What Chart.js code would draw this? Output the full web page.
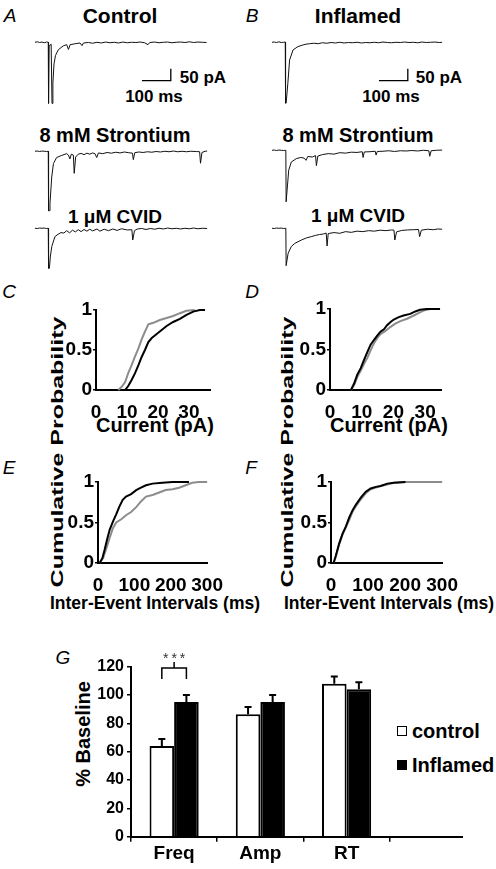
<!DOCTYPE html>
<html>
<head>
<meta charset="utf-8">
<script src="https://cdn.jsdelivr.net/npm/chart.js@4.4.1/dist/chart.umd.min.js"></script>
<style>
  html, body { margin: 0; padding: 0; background: #fff; }
  #page { position: relative; width: 496px; height: 869px; overflow: hidden;
          font-family: "Liberation Sans", Arial, Helvetica, sans-serif; color: #000; }
  canvas { position: absolute; }
  .t { position: absolute; transform: translate(-50%, -50%); white-space: nowrap; line-height: 1; font-weight: bold; }
  .lbl { position: absolute; transform: translate(-50%, -50%); font-style: italic; font-size: 19px; line-height: 1; }
  .vt { position: absolute; white-space: nowrap; line-height: 1; font-weight: bold; }
  #legend { position: absolute; left: 397px; top: 714px; }
  .lg { display: flex; align-items: center; height: 34px; font-weight: bold; font-size: 20px; line-height: 1; }
  .sw { display: inline-block; width: 8px; height: 8px; border: 1.5px solid #000; margin-right: 5px; }
</style>
</head>
<body>
<div id="page">
  <div class="lbl" style="left:10px;top:15px">A</div>
  <div class="lbl" style="left:252px;top:15px">B</div>
  <div class="lbl" style="left:9px;top:291px">C</div>
  <div class="lbl" style="left:252px;top:291px">D</div>
  <div class="lbl" style="left:9px;top:467px">E</div>
  <div class="lbl" style="left:251px;top:467px">F</div>
  <div class="lbl" style="left:63px;top:657px">G</div>

  <div class="t" style="left:120px;top:15px;font-size:21px">Control</div>
  <div class="t" style="left:358px;top:15px;font-size:21px">Inflamed</div>
  <div class="t" style="left:203px;top:77px;font-size:17px">50 pA</div>
  <div class="t" style="left:154px;top:96px;font-size:17px">100 ms</div>
  <div class="t" style="left:439px;top:77px;font-size:17px">50 pA</div>
  <div class="t" style="left:391px;top:96px;font-size:17px">100 ms</div>
  <div class="t" style="left:115px;top:135px;font-size:20px">8 mM Strontium</div>
  <div class="t" style="left:358px;top:135px;font-size:20px">8 mM Strontium</div>
  <div class="t" style="left:115px;top:216px;font-size:19px">1 μM CVID</div>
  <div class="t" style="left:358px;top:215px;font-size:19px">1 μM CVID</div>

  <div class="t" style="left:155px;top:425px;font-size:20px">Current (pA)</div>
  <div class="t" style="left:389px;top:425px;font-size:20px">Current (pA)</div>
  <div class="t" style="left:155px;top:604px;font-size:17.5px">Inter-Event Intervals (ms)</div>
  <div class="t" style="left:389px;top:604px;font-size:17.5px">Inter-Event Intervals (ms)</div>

  <div class="vt" style="left:57px;top:452px;font-size:17px;transform:translate(-50%,-50%) rotate(-90deg) scaleX(1.47)">Cumulative Probability</div>
  <div class="vt" style="left:287px;top:452px;font-size:17px;transform:translate(-50%,-50%) rotate(-90deg) scaleX(1.47)">Cumulative Probability</div>
  <div class="vt" style="left:83px;top:734px;font-size:20px;transform:translate(-50%,-50%) rotate(-90deg)">% Baseline</div>

  <div id="legend"></div>
</div>

<script>
const FONT = '"Liberation Sans", Arial, Helvetica, sans-serif';

// ---- example traces: [time (ms), current (pA)] ----
const ctrlBaseline = [[0,0],[8,2],[16,-1],[24,1],[32,-2],[40,1],[46,0],[47,-255],[49,-15],[56,-8],[59,-255],[62,-170],[66,-90],[71,-55],[81,-31],[98,-15],[110,-10],[116,-30],[122,-10],[140,-6],[156,-3],[163,-14],[168,-3],[185,-1],[200,-4],[215,0],[230,-3],[245,1],[260,-2],[275,0],[290,-3],[305,1],[320,-2],[335,0],[350,-1],[365,1],[380,-2],[392,-10],[398,-1],[415,1],[430,-2],[445,0],[460,1],[475,-2],[490,0],[505,1],[520,-1],[535,2],[550,-1],[565,1],[580,0],[595,-1]];
const ctrlStrontium = [[0,0],[8,1],[16,-1],[24,1],[32,0],[40,-1],[46,0],[47,-248],[50,-248],[52,-217],[58,-107],[64,-51],[75,-26],[93,-17],[110,-10],[116,-16],[121,-32],[126,-12],[133,-16],[136,-92],[141,-24],[150,-12],[160,-9],[170,-14],[180,-8],[190,-12],[200,-7],[208,-10],[214,-26],[220,-7],[235,-10],[250,-5],[265,-8],[280,-4],[295,-7],[310,-3],[325,-6],[338,-8],[341,-35],[346,-6],[360,-3],[375,-5],[390,-2],[405,-4],[420,-1],[435,-3],[450,0],[465,-2],[480,1],[495,-2],[510,0],[525,-2],[540,0],[560,-1],[571,-2],[574,-50],[579,-5],[590,0],[597,1]];
const ctrlCvid = [[0,0],[8,-1],[16,1],[24,0],[32,1],[40,-1],[46,0],[47,-167],[50,-167],[53,-120],[58,-77],[69,-35],[80,-25],[90,-18],[100,-20],[110,-10],[120,-19],[130,-8],[140,-15],[150,-6],[160,-14],[170,-5],[180,-12],[190,-4],[200,-11],[215,-3],[225,-12],[240,-4],[255,-10],[270,-3],[285,-9],[300,-2],[320,-7],[336,-6],[339,-49],[345,-10],[355,-3],[370,-1],[385,-5],[400,-1],[415,-4],[430,0],[445,-3],[460,1],[475,-2],[490,0],[505,-3],[520,0],[535,-2],[550,1],[565,-2],[580,0],[597,-1]];
const inflBaseline = [[0,0],[8,1],[16,-1],[24,2],[32,-1],[40,0],[46,1],[47,-254],[49,-254],[55,-171],[61,-74],[73,-32],[90,-18],[105,-12],[118,-8],[130,-6],[145,-4],[160,-6],[175,-2],[190,-4],[205,-1],[220,-3],[235,0],[250,-3],[265,-1],[280,-2],[295,0],[310,-3],[325,-1],[340,-2],[355,0],[370,-2],[385,1],[400,-1],[415,-2],[430,0],[445,-1],[460,1],[475,-1],[490,0],[505,-2],[520,1],[535,-1],[550,0],[565,1],[580,-1],[590,0]];
const inflStrontium = [[0,0],[8,1],[16,-1],[24,1],[32,0],[40,-1],[48,0],[49,-215],[51,-215],[58,-83],[67,-49],[84,-35],[100,-30],[112,-33],[118,-42],[124,-26],[140,-28],[151,-22],[154,-64],[159,-24],[175,-18],[195,-14],[215,-16],[235,-10],[255,-12],[275,-8],[295,-9],[313,-6],[316,-30],[320,-7],[340,-6],[358,-4],[361,-20],[365,-5],[385,-4],[405,-2],[425,-5],[445,-2],[465,-3],[485,-1],[505,-3],[525,0],[544,-2],[547,-25],[552,-2],[570,0],[590,1]];
const inflCvid = [[0,0],[8,-1],[16,1],[24,0],[32,1],[40,-1],[48,0],[49,-156],[51,-156],[56,-104],[67,-76],[79,-63],[102,-49],[120,-40],[136,-35],[150,-30],[165,-26],[178,-24],[188,-20],[191,-74],[195,-22],[215,-18],[235,-21],[255,-14],[275,-17],[295,-12],[315,-14],[335,-10],[355,-12],[375,-8],[395,-10],[415,-7],[423,-8],[426,-49],[432,-15],[450,-9],[470,-7],[490,-6],[508,-5],[512,-35],[518,-8],[540,-4],[560,-6],[575,-3],[590,-4]];
const scaleBarMs = 100;
const scaleBarPA = 50;

// ---- cumulative distributions: [value, probability] ----
const ctrlAmpSr = [[9.4,0],[10.4,0.05],[11.5,0.125],[12.6,0.21],[13.7,0.31],[14.7,0.41],[15.8,0.5],[16.9,0.6],[18,0.65],[19.6,0.7],[21.2,0.75],[22.8,0.8],[24.9,0.85],[27.1,0.89],[29.2,0.94],[31.4,0.98],[33.5,1],[35.2,1]];
const ctrlAmpCvid = [[7.2,0],[8.3,0.04],[9.4,0.1],[10.4,0.21],[11.5,0.31],[12.6,0.42],[13.7,0.52],[14.7,0.63],[15.8,0.73],[16.9,0.82],[18.5,0.84],[20.6,0.875],[22.8,0.9],[24.9,0.925],[27.1,0.96],[29.2,0.99],[31.9,1]];
const inflAmpSr = [[6.6,0],[7.6,0.08],[8.6,0.19],[9.7,0.27],[10.7,0.37],[11.8,0.47],[12.8,0.56],[13.9,0.62],[14.9,0.67],[15.9,0.72],[17,0.75],[18,0.8],[19.1,0.84],[20.1,0.87],[21.7,0.9],[23.2,0.92],[25.3,0.94],[26.9,0.97],[28.4,0.99],[30.5,1],[34.7,1]];
const inflAmpCvid = [[6.6,0],[7.6,0.06],[8.6,0.16],[9.7,0.24],[10.7,0.32],[11.8,0.4],[12.8,0.49],[13.9,0.58],[14.9,0.64],[15.9,0.69],[17.5,0.73],[19.1,0.78],[20.6,0.82],[22.2,0.85],[24.3,0.88],[26.4,0.92],[27.9,0.95],[29.5,0.98],[31.6,1],[34.7,1]];
const ctrlIeiSr = [[4.5,0],[12,0.06],[18,0.16],[25,0.29],[32,0.41],[41,0.51],[50,0.6],[59,0.7],[68,0.78],[77,0.82],[91,0.85],[105,0.9],[118,0.93],[132,0.96],[150,0.98],[177,0.99],[205,1],[250,1]];
const ctrlIeiCvid = [[4.5,0],[14,0.06],[23,0.18],[32,0.31],[41,0.43],[50,0.5],[64,0.54],[77,0.59],[91,0.63],[105,0.69],[118,0.76],[132,0.82],[150,0.84],[168,0.87],[186,0.9],[205,0.91],[223,0.93],[241,0.96],[259,0.99],[277,1],[300,1]];
const inflIeiSr = [[7,0],[13,0.09],[22,0.24],[31,0.36],[40,0.45],[49,0.56],[58,0.65],[67,0.72],[81,0.81],[94,0.88],[107,0.92],[121,0.94],[134,0.95],[152,0.98],[170,0.99],[201,1]];
const inflIeiCvid = [[7,0],[13,0.08],[22,0.23],[31,0.35],[40,0.44],[49,0.53],[58,0.63],[67,0.7],[81,0.79],[94,0.86],[107,0.91],[121,0.93],[134,0.95],[152,0.97],[170,0.99],[201,1],[250,1],[300,1]];
const ampTicks = [0, 10, 20, 30];
const ieiTicks = [0, 100, 200, 300];
const probTicks = [0, 0.5, 1];

// ---- % of baseline, mean and SEM ----
const groups = ['Freq', 'Amp', 'RT'];
const controlPct = [64, 86.5, 108];
const controlSem = [5, 5, 5];
const inflamedPct = [95, 95, 104];
const inflamedSem = [5, 5, 5];
const pctTicks = [0, 20, 40, 60, 80, 100, 120];
const sigGroup = 0;
const sigText = '***';

Chart.defaults.font.family = FONT;
Chart.defaults.color = '#000';

function makeCanvas(left, top, w, h) {
  const c = document.createElement('canvas');
  c.width = w; c.height = h;
  c.style.left = left + 'px';
  c.style.top = top + 'px';
  document.getElementById('page').appendChild(c);
  return c;
}

const noPlugins = { legend: { display: false }, tooltip: { enabled: false } };

/* --- traces --- */
function traceChart(left, baseline, trace, withBar) {
  const canvas = makeCanvas(left, baseline - 5.3, 173, 70);
  const datasets = [{
    data: trace.map(p => ({ x: p[0], y: p[1] })),
    borderColor: '#111', borderWidth: 1, pointRadius: 0
  }];
  if (withBar) {
    const t0 = 371, i0 = -160;
    datasets.push({
      data: [{ x: t0, y: i0 }, { x: t0 + scaleBarMs, y: i0 }, { x: t0 + scaleBarMs, y: i0 + scaleBarPA }],
      borderColor: '#000', borderWidth: 1.3, pointRadius: 0
    });
  }
  new Chart(canvas, {
    type: 'line',
    data: { datasets },
    options: {
      animation: false, responsive: false, events: [],
      layout: { padding: 0 },
      plugins: noPlugins,
      scales: {
        x: { type: 'linear', display: false, min: 0, max: 600 },
        y: { display: false, min: -270, max: 22 }
      }
    }
  });
}

traceChart(35, 42.5, ctrlBaseline, true);
traceChart(35, 151, ctrlStrontium, false);
traceChart(35, 228.3, ctrlCvid, false);
traceChart(272, 42.3, inflBaseline, true);
traceChart(272, 150, inflStrontium, false);
traceChart(272, 228.3, inflCvid, false);

/* --- cumulative probability plots --- */
function cumChart(left, top, areaW, areaH, xMax, xTicks, sr, cvid) {
  const canvas = makeCanvas(left, top, 34 + areaW + 18, 14 + areaH + 32);
  const tickFont = { family: FONT, size: 19, weight: 'bold' };
  new Chart(canvas, {
    type: 'line',
    data: {
      datasets: [
        { label: 'Strontium', data: sr.map(p => ({ x: p[0], y: p[1] })), borderColor: '#000', borderWidth: 2, pointRadius: 0, clip: false },
        { label: 'CVID', data: cvid.map(p => ({ x: p[0], y: p[1] })), borderColor: '#8c8c8c', borderWidth: 2, pointRadius: 0, clip: false }
      ]
    },
    options: {
      animation: false, responsive: false, events: [],
      layout: { padding: { top: 14, right: 18, left: 0, bottom: 0 } },
      plugins: noPlugins,
      scales: {
        x: {
          type: 'linear', min: 0, max: xMax,
          afterBuildTicks: s => { s.ticks = xTicks.map(v => ({ value: v })); },
          grid: { display: false },
          border: { display: true, color: '#000', width: 2 },
          ticks: { color: '#000', padding: 3, maxRotation: 0, autoSkip: false, font: tickFont, callback: v => String(v) },
          afterFit: s => { s.height = 32; }
        },
        y: {
          min: 0, max: 1,
          afterBuildTicks: s => { s.ticks = probTicks.map(v => ({ value: v })); },
          grid: { display: true, drawOnChartArea: false, drawTicks: true, tickLength: 3, color: '#000', lineWidth: 1.5 },
          border: { display: true, color: '#000', width: 2 },
          ticks: { color: '#000', padding: 1, font: tickFont, callback: v => String(v) },
          afterFit: s => { s.width = 34; }
        }
      }
    }
  });
}

cumChart(62, 296, 114, 80, 36.8, ampTicks, ctrlAmpSr, ctrlAmpCvid);
cumChart(296, 295, 111, 81, 35, ampTicks, inflAmpSr, inflAmpCvid);
cumChart(64, 468, 110, 81, 300, ieiTicks, ctrlIeiSr, ctrlIeiCvid);
cumChart(297, 468, 112, 81, 300, ieiTicks, inflIeiSr, inflIeiCvid);

/* --- bar chart G --- */
const errorBars = {
  id: 'errorBars',
  afterDatasetsDraw(chart) {
    const { ctx, scales: { y } } = chart;
    ctx.save();
    ctx.strokeStyle = '#000';
    ctx.lineWidth = 2;
    chart.data.datasets.forEach((ds, i) => {
      chart.getDatasetMeta(i).data.forEach((bar, j) => {
        const top = y.getPixelForValue(ds.data[j].y + ds.sem[j]);
        ctx.beginPath();
        ctx.moveTo(bar.x, bar.y);
        ctx.lineTo(bar.x, top);
        ctx.moveTo(bar.x - 3.5, top);
        ctx.lineTo(bar.x + 3.5, top);
        ctx.stroke();
      });
    });
    ctx.restore();
  }
};

const sigBracket = {
  id: 'sigBracket',
  afterDatasetsDraw(chart) {
    const { ctx, scales: { y } } = chart;
    const a = chart.getDatasetMeta(0).data[sigGroup];
    const b = chart.getDatasetMeta(1).data[sigGroup];
    const yLeg = y.getPixelForValue(111.3);
    const yBar = y.getPixelForValue(119.1);
    const yTop = y.getPixelForValue(123.3);
    const mid = (a.x + b.x) / 2;
    ctx.save();
    ctx.strokeStyle = '#000';
    ctx.lineWidth = 1.5;
    ctx.beginPath();
    ctx.moveTo(a.x, yLeg); ctx.lineTo(a.x, yBar); ctx.lineTo(b.x, yBar); ctx.lineTo(b.x, yLeg);
    ctx.moveTo(mid, yBar); ctx.lineTo(mid, yTop);
    ctx.stroke();
    ctx.fillStyle = '#333';
    ctx.font = '14px ' + FONT;
    ctx.textAlign = 'center';
    ctx.letterSpacing = '3px';
    ctx.fillText(sigText, mid + 1.5, y.getPixelForValue(122.4));
    ctx.restore();
  }
};

// groups sit at x = 0, 1, 2; the axis runs on past the last group, as in the figure
const groupIdx = groups.map((g, i) => i);
const groupEdges = [-0.5, 0.5, 1.5, 2.5];
const xRange = { min: -0.5, max: 3.35 };

const gChart = new Chart(makeCanvas(61, 640, 402, 229), {
  type: 'bar',
  data: {
    datasets: [
      { label: 'control', data: controlPct.map((v, i) => ({ x: i, y: v })), sem: controlSem, backgroundColor: '#fff', borderColor: '#000', borderWidth: 2 },
      { label: 'Inflamed', data: inflamedPct.map((v, i) => ({ x: i, y: v })), sem: inflamedSem, backgroundColor: '#000', borderColor: '#000', borderWidth: 2 }
    ]
  },
  options: {
    animation: false, responsive: false, events: [],
    layout: { padding: { top: 26.7, right: 0, left: 0, bottom: 0 } },
    datasets: { bar: { categoryPercentage: 0.57, barPercentage: 1 } },
    plugins: noPlugins,
    scales: {
      x: {
        type: 'linear', position: 'bottom', weight: 1, offset: false, ...xRange,
        afterBuildTicks: s => { s.ticks = groupIdx.map(v => ({ value: v })); },
        grid: { display: false, offset: false },
        border: { display: false },
        ticks: { color: '#000', padding: -7, autoSkip: false, maxRotation: 0, font: { family: FONT, size: 19, weight: 'bold' }, callback: v => groups[v] },
        afterFit: s => { s.height = 27.3; }
      },
      xEdge: {
        type: 'linear', position: 'bottom', weight: 0, offset: false, ...xRange,
        afterBuildTicks: s => { s.ticks = groupEdges.map(v => ({ value: v })); },
        grid: { display: true, offset: false, drawOnChartArea: false, tickLength: 5, color: '#000', lineWidth: 1.5 },
        border: { display: true, color: '#000', width: 2 },
        ticks: { display: false },
        afterFit: s => { s.height = 5; }
      },
      y: {
        min: 0, max: 120,
        afterBuildTicks: s => { s.ticks = pctTicks.map(v => ({ value: v })); },
        grid: { display: true, drawOnChartArea: false, tickLength: 4, color: '#000', lineWidth: 1.5 },
        border: { display: true, color: '#000', width: 2 },
        ticks: { color: '#000', padding: 3, font: { family: FONT, size: 16, weight: 'bold' } },
        afterFit: s => { s.width = 70; }
      }
    }
  },
  plugins: [errorBars, sigBracket]
});

// legend built from the chart's datasets
const legend = document.getElementById('legend');
gChart.data.datasets.forEach(ds => {
  const row = document.createElement('div');
  row.className = 'lg';
  const sw = document.createElement('span');
  sw.className = 'sw';
  sw.style.background = ds.backgroundColor;
  const tx = document.createElement('span');
  tx.textContent = ds.label;
  row.append(sw, tx);
  legend.appendChild(row);
});
</script>
</body>
</html>
